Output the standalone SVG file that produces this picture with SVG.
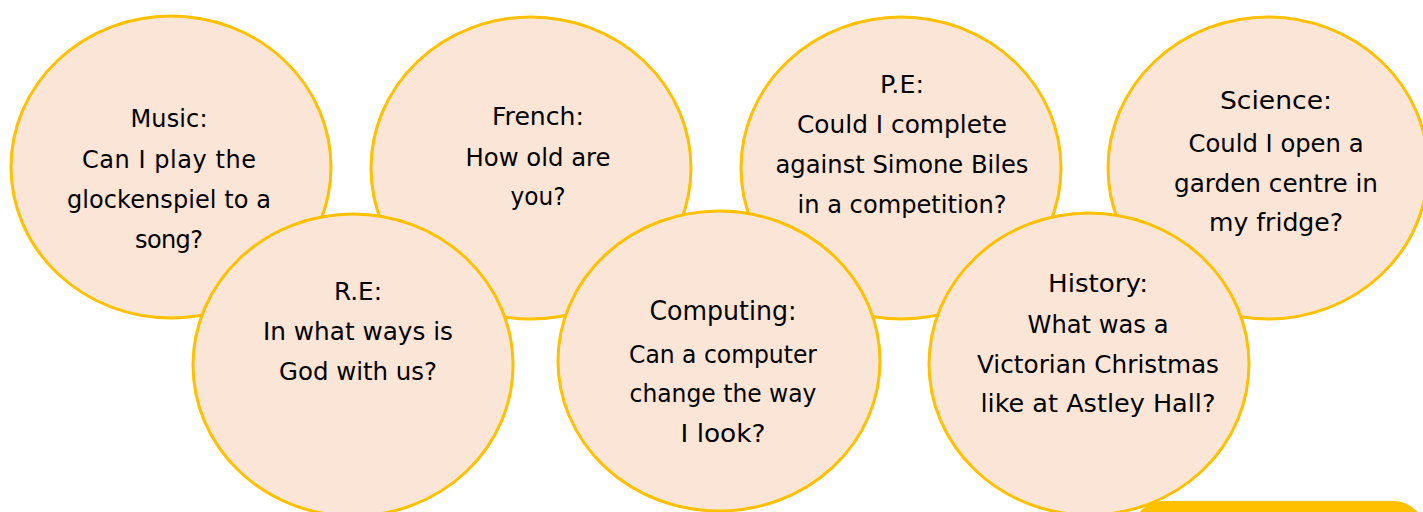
<svg xmlns="http://www.w3.org/2000/svg" width="1423" height="512" viewBox="0 0 1423 512">
<style>
.c{fill:#FBE5D6;stroke:#FFC000;stroke-width:3}
.t{font-family:"DejaVu Sans",sans-serif;font-size:24px;fill:#000;text-anchor:middle}
</style>
<rect width="1423" height="512" fill="#fff"/>
<g id="music"><ellipse class="c" cx="171" cy="167" rx="160" ry="151"/>
<text class="t" lengthAdjust="spacingAndGlyphs"><tspan x="169" y="127" textLength="77">Music:</tspan><tspan x="169" y="168" textLength="174">Can I play the</tspan><tspan x="169" y="208" textLength="204">glockenspiel to a</tspan><tspan x="169" y="248" textLength="68">song?</tspan></text></g>
<g id="french"><ellipse class="c" cx="531" cy="168" rx="160" ry="151"/>
<text class="t"><tspan x="538" y="125" textLength="92" lengthAdjust="spacingAndGlyphs">French:</tspan><tspan x="538" y="166" textLength="145" lengthAdjust="spacingAndGlyphs">How old are</tspan><tspan x="538" y="205" textLength="55" lengthAdjust="spacingAndGlyphs">you?</tspan></text></g>
<g id="pe"><ellipse class="c" cx="901" cy="168" rx="160" ry="151"/>
<text class="t"><tspan x="902" y="93" textLength="44" lengthAdjust="spacingAndGlyphs">P.E:</tspan><tspan x="902" y="133" textLength="210" lengthAdjust="spacingAndGlyphs">Could I complete</tspan><tspan x="902" y="173" textLength="253" lengthAdjust="spacingAndGlyphs">against Simone Biles</tspan><tspan x="902" y="213" textLength="209" lengthAdjust="spacingAndGlyphs">in a competition?</tspan></text></g>
<g id="science"><ellipse class="c" cx="1268" cy="168" rx="160" ry="151"/>
<text class="t"><tspan x="1276" y="109" textLength="112" lengthAdjust="spacingAndGlyphs">Science:</tspan><tspan x="1276" y="152" textLength="175" lengthAdjust="spacingAndGlyphs">Could I open a</tspan><tspan x="1276" y="192" textLength="204" lengthAdjust="spacingAndGlyphs">garden centre in</tspan><tspan x="1276" y="231" textLength="134" lengthAdjust="spacingAndGlyphs">my fridge?</tspan></text></g>
<g id="re"><ellipse class="c" cx="353" cy="365" rx="160" ry="151"/>
<text class="t"><tspan x="358" y="300" textLength="48" lengthAdjust="spacingAndGlyphs">R.E:</tspan><tspan x="358" y="340" textLength="190" lengthAdjust="spacingAndGlyphs">In what ways is</tspan><tspan x="358" y="380" textLength="158" lengthAdjust="spacingAndGlyphs">God with us?</tspan></text></g>
<g id="computing"><ellipse class="c" cx="719" cy="361" rx="161" ry="150"/>
<text class="t"><tspan x="723" y="320" font-size="27" textLength="147" lengthAdjust="spacingAndGlyphs">Computing:</tspan><tspan x="723" y="363" textLength="188" lengthAdjust="spacingAndGlyphs">Can a computer</tspan><tspan x="723" y="402" textLength="187" lengthAdjust="spacingAndGlyphs">change the way</tspan><tspan x="723" y="442" textLength="85" lengthAdjust="spacingAndGlyphs">I look?</tspan></text></g>
<g id="history"><ellipse class="c" cx="1089" cy="364" rx="160" ry="151"/>
<text class="t"><tspan x="1098" y="292" textLength="100" lengthAdjust="spacingAndGlyphs">History:</tspan><tspan x="1098" y="333" textLength="141" lengthAdjust="spacingAndGlyphs">What was a</tspan><tspan x="1098" y="373" textLength="242" lengthAdjust="spacingAndGlyphs">Victorian Christmas</tspan><tspan x="1098" y="412" textLength="235" lengthAdjust="spacingAndGlyphs">like at Astley Hall?</tspan></text></g>
<g id="banner"><rect x="1133" y="501" width="291" height="60" rx="30" fill="#FFC000"/></g>
<g id="connectors"></g>
</svg>
